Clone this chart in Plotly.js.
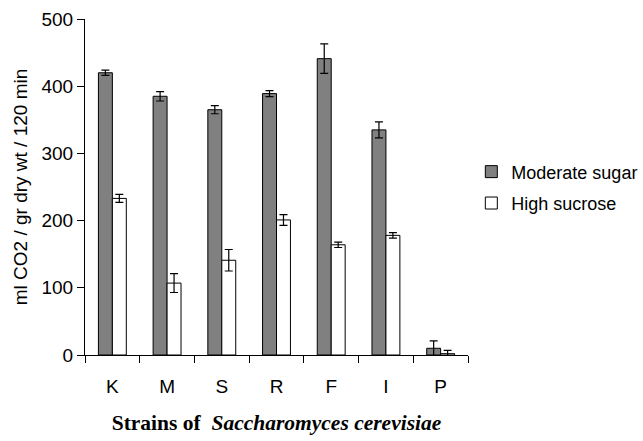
<!DOCTYPE html>
<html>
<head>
<meta charset="utf-8">
<script src="https://cdn.plot.ly/plotly-3.0.1.min.js"></script>
<style>html,body{margin:0;padding:0;background:#fff;}#chart{width:643px;height:441px;}</style>
</head>
<body>
<div id="chart"></div>
<script>
const strains = ["K", "M", "S", "R", "F", "I", "P"];
const moderateSugar = [420, 385, 365, 389, 441, 335, 10];
const moderateErr = [4, 7, 6, 4.5, 22, 12, 11];
const highSucrose = [233, 107, 141, 201, 164, 178, 2];
const highErr = [6, 14, 16, 8, 4, 4, 5];
const yTicks = [0, 100, 200, 300, 400, 500];

const sans = "'Liberation Sans', Arial, sans-serif";

const traces = [
  {
    type: "bar", name: "Moderate sugar", x: strains, y: moderateSugar, legendgroup: "a",
    marker: {color: "#808080", line: {color: "#000", width: 1}},
    error_y: {type: "data", array: moderateErr, visible: true, color: "#000", thickness: 1.2, width: 4}
  },
  {
    type: "bar", name: "High sucrose", x: strains, y: highSucrose, legendgroup: "b",
    marker: {color: "#ffffff", line: {color: "#000", width: 1}},
    error_y: {type: "data", array: highErr, visible: true, color: "#000", thickness: 1.2, width: 4}
  }
];

const layout = {
  width: 643, height: 441,
  margin: {l: 85, r: 175, t: 18.5, b: 86.3, autoexpand: false},
  paper_bgcolor: "#fff", plot_bgcolor: "#fff",
  barmode: "group", bargap: 0.49, bargroupgap: 0,
  font: {family: sans, size: 19, color: "#000"},
  showlegend: true,
  legend: {xref: "container", yref: "container", x: 0.733, y: 0.575, xanchor: "left", yanchor: "middle",
    traceorder: "grouped",
    font: {family: sans, size: 18, color: "#000"}, itemwidth: 30, tracegroupgap: 5, bgcolor: "rgba(0,0,0,0)"},
  xaxis: {
    type: "category", tickson: "boundaries", ticks: "outside", ticklen: 7, tickcolor: "#000",
    ticklabelstandoff: 14, automargin: false,
    showline: true, linecolor: "#000", linewidth: 1, showgrid: false, zeroline: false,
    tickfont: {family: sans, size: 19},
    title: {text: "<b>Strains of  <i>Saccharomyces cerevisiae</i></b>",
      font: {family: "'Liberation Serif', 'Times New Roman', serif", size: 21.5}, standoff: 19}
  },
  yaxis: {
    range: [0, 500], tickvals: yTicks, ticks: "outside", ticklen: 7, tickcolor: "#000",
    automargin: false,
    showline: true, linecolor: "#000", linewidth: 1, showgrid: false, zeroline: false,
    tickfont: {family: sans, size: 19},
    title: {text: "ml CO2 / gr dry wt / 120 min", font: {family: sans, size: 19}, standoff: 8}
  }
};

Plotly.newPlot("chart", traces, layout, {displayModeBar: false, staticPlot: true});
</script>
</body>
</html>
